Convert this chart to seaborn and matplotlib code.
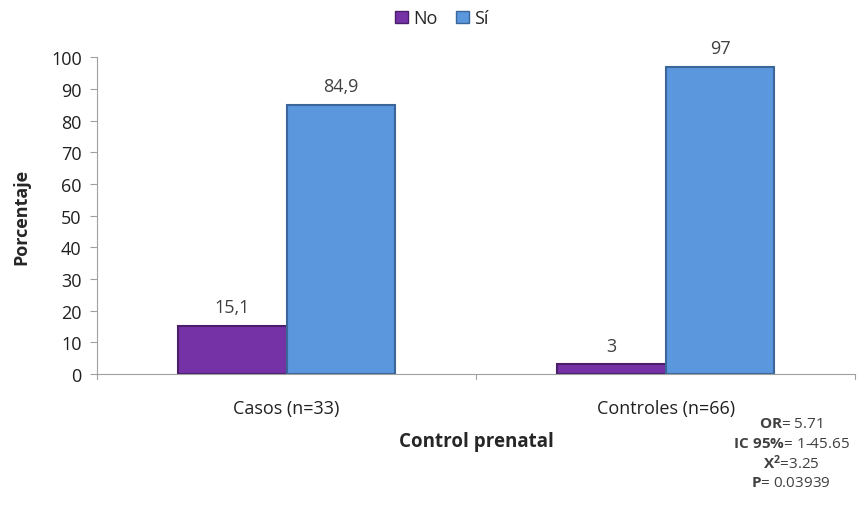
import matplotlib
matplotlib.use('Agg')
import matplotlib.pyplot as plt
import seaborn as sns
import pandas as pd
from matplotlib.patches import Patch

categories = ['Casos (n=33)', 'Controles (n=66)']
series = ['No', 'Sí']
no_values = [15.1, 3]
si_values = [84.9, 97]
value_labels_no = ['15,1', '3']
value_labels_si = ['84,9', '97']
stats_lines = [r'$\mathbf{OR}$= 5.71', r'$\mathbf{IC\ 95\%}$= 1-45.65',
               r'$\mathbf{X^2}$=3.25', r'$\mathbf{P}$= 0.03939']

colors = {'No': '#7532A6', 'Sí': '#5B97DD'}
edges = {'No': '#4A1E6B', 'Sí': '#3A6699'}

df = pd.DataFrame({
    'grupo': categories * 2,
    'serie': ['No'] * 2 + ['Sí'] * 2,
    'valor': no_values + si_values,
    'etiqueta': value_labels_no + value_labels_si,
})

sns.set_style('white')
plt.rcParams['font.family'] = ['Open Sans', 'DejaVu Sans']
plt.rcParams['mathtext.fontset'] = 'custom'
plt.rcParams['mathtext.rm'] = 'Open Sans'
plt.rcParams['mathtext.bf'] = 'Open Sans:bold'
plt.rcParams['mathtext.it'] = 'Open Sans'

fig = plt.figure(figsize=(8.58, 5.06), dpi=100)
ax = fig.add_axes([0.113, 0.259, 0.884, 0.626])

sns.barplot(data=df, x='grupo', y='valor', hue='serie', palette=colors,
            width=0.573, ax=ax, legend=False, saturation=1)

for bar, (_, row) in zip(ax.patches, df.iterrows()):
    bar.set_edgecolor(edges[row['serie']])
    bar.set_linewidth(1.5)
    ax.annotate(row['etiqueta'], (bar.get_x() + bar.get_width() / 2, bar.get_height()),
                xytext=(0, 7), textcoords='offset points', ha='center', va='bottom',
                fontsize=13, color='#404040')

ax.set_ylim(0, 100)
ax.set_xlim(-0.5, 1.5)
ax.set_yticks(range(0, 101, 10))
ax.tick_params(axis='y', labelsize=13, length=5, width=0.8, color='#A0A0A0', left=True,
               labelcolor='#202020', pad=6)
ax.tick_params(axis='x', labelsize=13, length=0, pad=18, labelcolor='#202020')
for xv in [-0.5, 0.5, 1.5]:
    ax.plot([xv, xv], [0, -1.6], color='#A0A0A0', lw=0.8, clip_on=False)
ax.set_xlabel('Control prenatal', fontsize=13.5, fontweight='bold', labelpad=10)
ax.set_ylabel('Porcentaje', fontsize=13, fontweight='bold', labelpad=15)
for s in ['top', 'right']:
    ax.spines[s].set_visible(False)
for s in ['left', 'bottom']:
    ax.spines[s].set_color('#A0A0A0')
    ax.spines[s].set_linewidth(0.8)

handles = [Patch(facecolor=colors[s], edgecolor=edges[s], label=s) for s in series]
fig.legend(handles=handles, loc='center', bbox_to_anchor=(0.515, 0.962), ncol=2,
           frameon=False, fontsize=13, handlelength=0.7, handleheight=0.7,
           handletextpad=0.3, columnspacing=1.0)

for i, line in enumerate(stats_lines):
    fig.text(0.922, 1 - (424 + i * 20) / 506, line, ha='center', va='center',
             fontsize=11, color='#404040')

fig.savefig('out.png', dpi=100)
